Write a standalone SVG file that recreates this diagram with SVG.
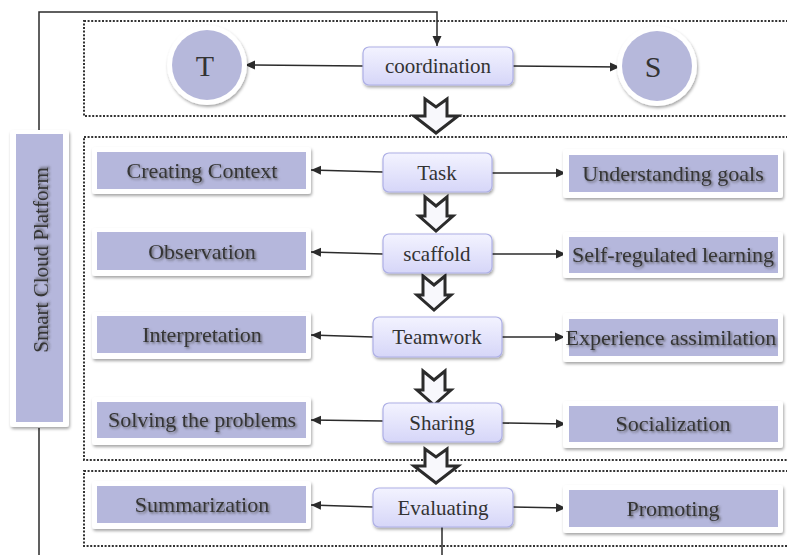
<svg xmlns="http://www.w3.org/2000/svg" width="787" height="555" viewBox="0 0 787 555">
<defs>
  <linearGradient id="cg" x1="0" y1="0" x2="0" y2="1">
    <stop offset="0" stop-color="#f3f3ff"/>
    <stop offset="1" stop-color="#d6d6f8"/>
  </linearGradient>
  <filter id="sh" x="-10%" y="-20%" width="125%" height="150%">
    <feDropShadow dx="1" dy="2" stdDeviation="1.6" flood-color="#000" flood-opacity="0.35"/>
  </filter>
  <filter id="ts" x="-10%" y="-30%" width="120%" height="160%">
    <feDropShadow dx="1.5" dy="1.5" stdDeviation="0.9" flood-color="#444" flood-opacity="0.75"/>
  </filter>
  <marker id="ah" viewBox="0 0 10 10" refX="10" refY="5" markerWidth="10" markerHeight="10" markerUnits="userSpaceOnUse" orient="auto">
    <path d="M0,0.5 L10,5 L0,9.5 Z" fill="#2b2b2b"/>
  </marker>
  <path id="bigArrow" d="M-11,0 L0,8 L11,0 L11,17 L22,17 L0,34 L-22,17 L-11,17 Z"/>
  <path id="smallArrow" d="M-11,0 L0,9 L11,0 L11,19 L17,19 L0,34 L-17,19 L-11,19 Z"/>
</defs>
<style>
  .frame { fill: none; stroke: #333; stroke-width: 2; stroke-dasharray: 2 1.6; }
  .outer { fill: #ffffff; filter: url(#sh); }
  .inner { fill: #b5b7dc; }
  .center { fill: url(#cg); stroke: #aeb0e6; stroke-width: 1.2; filter: url(#sh); }
  .lbl { font-size: 22px; fill: #363636; text-anchor: middle; filter: url(#ts); }
  .clbl { font-size: 21px; fill: #333; text-anchor: middle; }
  .conn { fill: none; stroke: #2b2b2b; stroke-width: 1.5; }
  .arr { stroke: #2b2b2b; stroke-width: 3; fill: #f8f8fc; stroke-linejoin: miter; }
  .circ { font-size: 30px; fill: #333; text-anchor: middle; }
</style>
<rect width="787" height="555" fill="#ffffff"/>

<g id="frames">
  <rect class="frame" x="84" y="21" width="710" height="95"/>
  <rect class="frame" x="84" y="137" width="710" height="323"/>
  <rect class="frame" x="84" y="471" width="710" height="75"/>
</g>

<g id="connectors">
  <polyline class="conn" points="39,130 39,12 437,12 437,46" marker-end="url(#ah)"/>
  <line class="conn" x1="39" y1="428" x2="39" y2="555"/>
  <line class="conn" x1="442" y1="527" x2="442" y2="555"/>
  <line class="conn" x1="363" y1="66" x2="245" y2="65" marker-end="url(#ah)"/>
  <line class="conn" x1="513" y1="66" x2="620" y2="67" marker-end="url(#ah)"/>
  <line class="conn" x1="383" y1="172" x2="311" y2="170" marker-end="url(#ah)"/>
  <line class="conn" x1="492" y1="173" x2="566" y2="173" marker-end="url(#ah)"/>
  <line class="conn" x1="383" y1="254" x2="311" y2="252" marker-end="url(#ah)"/>
  <line class="conn" x1="492" y1="254" x2="566" y2="254" marker-end="url(#ah)"/>
  <line class="conn" x1="373" y1="337" x2="311" y2="335" marker-end="url(#ah)"/>
  <line class="conn" x1="502" y1="337" x2="565" y2="337" marker-end="url(#ah)"/>
  <line class="conn" x1="383" y1="421" x2="311" y2="420" marker-end="url(#ah)"/>
  <line class="conn" x1="502" y1="423" x2="566" y2="424" marker-end="url(#ah)"/>
  <line class="conn" x1="373" y1="507" x2="311" y2="505" marker-end="url(#ah)"/>
  <line class="conn" x1="513" y1="507" x2="566" y2="508" marker-end="url(#ah)"/>
  <use href="#bigArrow" class="arr" x="436" y="99"/>
  <use href="#smallArrow" class="arr" x="436" y="197"/>
  <use href="#smallArrow" class="arr" x="434" y="276"/>
  <use href="#smallArrow" class="arr" x="434" y="371"/>
  <use href="#bigArrow" class="arr" x="436" y="449"/>
</g>

<g font-family="Liberation Serif, Tinos, DejaVu Serif, Noto Serif, serif">
<g id="platform">
  <rect class="outer" x="10" y="130" width="59" height="297" rx="3"/>
  <rect class="inner" x="16" y="134" width="47" height="288"/>
  <text class="lbl" style="font-size:21px" transform="translate(48,260) rotate(-90)">Smart Cloud Platform</text>
</g>

<g id="T">
  <circle cx="207" cy="65" r="40" fill="#fff" filter="url(#sh)"/>
  <circle cx="207" cy="65" r="35" fill="#b6b8db"/>
  <text class="circ" x="205" y="76">T</text>
</g>
<g id="S">
  <circle cx="657" cy="66" r="40" fill="#fff" filter="url(#sh)"/>
  <circle cx="657" cy="66" r="35" fill="#b6b8db"/>
  <text class="circ" x="653" y="77">S</text>
</g>

<g id="coordination">
  <rect class="center" x="363" y="47" width="150" height="38" rx="6"/>
  <text class="clbl" x="438" y="73">coordination</text>
</g>
<g id="task">
  <rect class="center" x="383" y="153" width="109" height="39" rx="6"/>
  <text class="clbl" x="437" y="180">Task</text>
</g>
<g id="scaffold">
  <rect class="center" x="383" y="234" width="109" height="39" rx="6"/>
  <text class="clbl" x="437" y="261">scaffold</text>
</g>
<g id="teamwork">
  <rect class="center" x="373" y="317" width="129" height="40" rx="6"/>
  <text class="clbl" x="437" y="344">Teamwork</text>
</g>
<g id="sharing">
  <rect class="center" x="383" y="403" width="119" height="39" rx="6"/>
  <text class="clbl" x="442" y="430">Sharing</text>
</g>
<g id="evaluating">
  <rect class="center" x="373" y="488" width="140" height="39" rx="6"/>
  <text class="clbl" x="443" y="515">Evaluating</text>
</g>

<g id="creating-context">
  <rect class="outer" x="92" y="147" width="219" height="47" rx="3"/>
  <rect class="inner" x="97" y="152" width="209" height="37"/>
  <text class="lbl" x="202" y="178">Creating Context</text>
</g>
<g id="observation">
  <rect class="outer" x="92" y="228" width="219" height="48" rx="3"/>
  <rect class="inner" x="97" y="232" width="209" height="38"/>
  <text class="lbl" x="202" y="259">Observation</text>
</g>
<g id="interpretation">
  <rect class="outer" x="92" y="312" width="219" height="47" rx="3"/>
  <rect class="inner" x="97" y="316" width="209" height="37"/>
  <text class="lbl" x="202" y="342">Interpretation</text>
</g>
<g id="solving">
  <rect class="outer" x="92" y="397" width="219" height="48" rx="3"/>
  <rect class="inner" x="97" y="402" width="209" height="36"/>
  <text class="lbl" x="202" y="427">Solving the problems</text>
</g>
<g id="summarization">
  <rect class="outer" x="92" y="481" width="219" height="48" rx="3"/>
  <rect class="inner" x="97" y="486" width="209" height="37"/>
  <text class="lbl" x="202" y="512">Summarization</text>
</g>

<g id="understanding-goals">
  <rect class="outer" x="563" y="149" width="220" height="49" rx="3"/>
  <rect class="inner" x="569" y="155" width="209" height="37"/>
  <text class="lbl" x="673" y="181">Understanding goals</text>
</g>
<g id="self-regulated">
  <rect class="outer" x="563" y="232" width="220" height="46" rx="3"/>
  <rect class="inner" x="569" y="237" width="209" height="36"/>
  <text class="lbl" x="673" y="262">Self-regulated learning</text>
</g>
<g id="experience">
  <rect class="outer" x="563" y="313" width="220" height="49" rx="3"/>
  <rect class="inner" x="569" y="319" width="209" height="37"/>
  <text class="lbl" x="671" y="345">Experience assimilation</text>
</g>
<g id="socialization">
  <rect class="outer" x="563" y="401" width="220" height="47" rx="3"/>
  <rect class="inner" x="569" y="406" width="209" height="36"/>
  <text class="lbl" x="673" y="431">Socialization</text>
</g>
<g id="promoting">
  <rect class="outer" x="563" y="485" width="220" height="48" rx="3"/>
  <rect class="inner" x="569" y="490" width="209" height="37"/>
  <text class="lbl" x="673" y="516">Promoting</text>
</g>
</g>
</svg>
